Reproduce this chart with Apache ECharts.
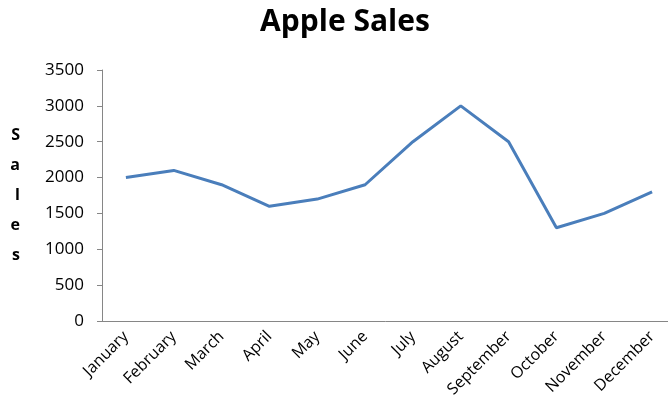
<!DOCTYPE html>
<html><head><meta charset="utf-8">
<script src="https://cdn.jsdelivr.net/npm/echarts@6/dist/echarts.min.js"></script>
<style>html,body{margin:0;padding:0;background:#fff}#c{width:668px;height:412px}</style>
</head><body><div id="c"></div>
<script>
const categories = ['January','February','March','April','May','June','July','August','September','October','November','December'];
const sales = [2000, 2100, 1900, 1600, 1700, 1900, 2500, 3000, 2500, 1300, 1500, 1800];
const chart = echarts.init(document.getElementById('c'));
const font = 'Open Sans, Noto Sans, sans-serif';
chart.setOption({
  animation: false,
  title: { text: 'Apple Sales', left: 340, textAlign: 'center', top: 2,
    textStyle: { fontFamily: font, fontSize: 30, fontWeight: 'bold', color: '#000' } },
  grid: { left: 102, right: -8, top: 70, bottom: 91, outerBoundsMode: 'none', containLabel: false },
  xAxis: {
    type: 'category', data: categories, boundaryGap: true,
    axisLine: { lineStyle: { color: '#868686', width: 1 } },
    axisTick: { length: 5, lineStyle: { color: '#868686' } },
    axisLabel: { rotate: 45, fontFamily: font, fontSize: 16, color: '#000', margin: 13 }
  },
  yAxis: {
    type: 'value', min: 0, max: 3500, interval: 500,
    name: 'S\na\nl\ne\ns', nameLocation: 'middle', nameRotate: 0, nameGap: 82,
    nameTextStyle: { fontFamily: font, fontSize: 16, fontWeight: 'bold', color: '#000', lineHeight: 30 },
    axisLine: { show: true, lineStyle: { color: '#868686', width: 1 } },
    axisTick: { show: true, length: 5, lineStyle: { color: '#868686' } },
    splitLine: { show: false },
    axisLabel: { fontFamily: font, fontSize: 17, color: '#000', margin: 18,
      formatter: function (v) { return String(v); } }
  },
  series: [{ type: 'line', data: sales, showSymbol: false, symbol: 'none',
    lineStyle: { color: '#4A7EBB', width: 3 } }]
});
</script></body></html>
